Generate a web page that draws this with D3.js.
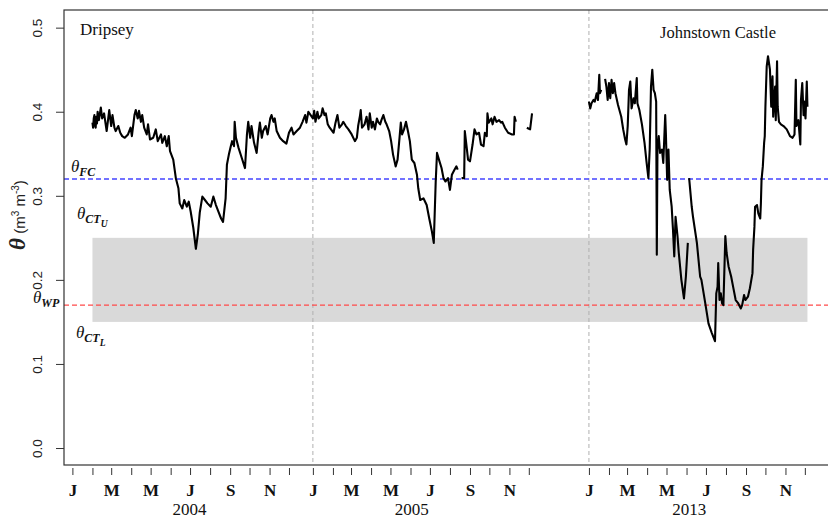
<!DOCTYPE html>
<html><head><meta charset="utf-8">
<script src="https://cdn.jsdelivr.net/npm/d3@7"></script>
<style>body{margin:0;background:#fff}svg{display:block}</style>
</head><body><svg id="c" width="828" height="518"></svg>
<script>
// ---------- data ----------
const years = ["2004", "2005", "2013"];
const yearOffset = [0, 372, 799];           // position of 1 Jan of each year on the day axis
const yearLabelDay = [181, 153, 155];
const monthStartsLeap = [0,31,60,91,121,152,182,213,244,274,305,335];
const monthStarts = [0,31,59,90,120,151,181,212,243,273,304,334];
const monthLetters = ["J","F","M","A","M","J","J","A","S","O","N","D"];
const yTicks = [0, 0.1, 0.2, 0.3, 0.4, 0.5];
const thetaFC = 0.32, thetaWP = 0.17, thetaCTU = 0.25, thetaCTL = 0.15;
const bandStart = [0, 31], bandEnd = [2, 338];   // [year index, day of year]
const siteNames = ["Dripsey", "Johnstown Castle"];

const dripsey2004 = [[31,0.387],[32,0.381],[33,0.392],[34,0.396],[35,0.384],[36,0.381],[37,0.394],[38,0.386],[39,0.400],[41,0.390],[44,0.405],[46,0.392],[49,0.398],[53,0.377],[57,0.402],[60,0.383],[62,0.396],[65,0.381],[67,0.377],[71,0.383],[74,0.375],[77,0.371],[81,0.369],[86,0.373],[90,0.381],[92,0.371],[96,0.396],[98,0.402],[101,0.392],[103,0.401],[106,0.388],[108,0.396],[111,0.381],[115,0.373],[117,0.385],[120,0.367],[125,0.369],[129,0.379],[132,0.365],[137,0.373],[139,0.363],[143,0.371],[146,0.359],[149,0.371],[151,0.353],[156,0.343],[160,0.321],[164,0.309],[166,0.291],[170,0.285],[173,0.295],[177,0.287],[180,0.293],[183,0.281],[187,0.262],[191,0.237],[194,0.254],[197,0.280],[201,0.299],[205,0.295],[209,0.291],[214,0.287],[218,0.299],[222,0.289],[226,0.281],[230,0.273],[233,0.269],[237,0.297],[239,0.337],[242,0.349],[245,0.359],[247,0.365],[250,0.359],[251,0.388],[253,0.369],[257,0.357],[262,0.345],[267,0.333],[270,0.373],[272,0.388],[275,0.369],[277,0.383],[281,0.363],[285,0.351],[288,0.375],[290,0.387],[293,0.369],[295,0.377],[299,0.383],[302,0.373],[306,0.392],[308,0.396],[311,0.388],[313,0.392],[316,0.377],[321,0.369],[326,0.365],[331,0.362],[335,0.375],[339,0.381],[342,0.373],[347,0.377],[352,0.381],[356,0.388],[360,0.396],[362,0.387],[365,0.400]];

const dripsey2005 = [[0,0.392],[2,0.401],[4,0.388],[7,0.400],[9,0.392],[13,0.396],[15,0.404],[18,0.396],[20,0.398],[23,0.385],[26,0.381],[32,0.375],[35,0.387],[38,0.396],[41,0.381],[45,0.385],[47,0.388],[51,0.383],[55,0.379],[60,0.373],[65,0.365],[68,0.369],[70,0.383],[73,0.396],[74,0.402],[76,0.381],[80,0.385],[83,0.394],[86,0.379],[88,0.398],[91,0.381],[93,0.388],[96,0.379],[99,0.392],[101,0.388],[104,0.385],[106,0.390],[109,0.396],[112,0.388],[114,0.385],[118,0.377],[121,0.365],[124,0.349],[128,0.335],[131,0.343],[134,0.369],[136,0.387],[138,0.373],[141,0.379],[144,0.388],[147,0.377],[150,0.365],[153,0.343],[157,0.339],[161,0.325],[163,0.309],[166,0.295],[171,0.297],[176,0.289],[180,0.273],[184,0.258],[187,0.244],[190,0.317],[192,0.351],[195,0.343],[199,0.333],[202,0.321],[205,0.317],[209,0.321],[212,0.307],[215,0.325],[219,0.331],[222,0.335],[224,0.331],[227,null],[230,0.321],[234,0.321],[235,0.377],[238,0.357],[240,0.343],[243,0.341],[247,0.361],[250,0.379],[253,0.373],[257,0.375],[260,0.361],[264,0.359],[266,0.375],[269,0.371],[270,0.398],[272,0.387],[276,0.392],[278,0.385],[281,0.394],[284,0.388],[288,0.390],[291,0.387],[293,0.388],[297,0.381],[302,0.375],[308,0.373],[311,0.373],[312,0.394],[314,0.388],[320,null],[331,0.381],[336,0.379],[339,0.398]];

const johnstown2013 = [[0,0.412],[2,0.404],[4,0.410],[7,0.414],[9,0.412],[12,0.422],[14,0.414],[16,0.444],[17,0.422],[19,0.426],[22,null],[25,0.439],[27,0.430],[29,0.414],[31,0.434],[33,0.416],[35,0.438],[37,0.422],[39,0.434],[41,0.422],[45,0.408],[50,0.394],[53,0.379],[56,0.367],[58,0.361],[60,0.383],[62,0.426],[64,0.436],[66,0.404],[69,0.416],[71,0.410],[74,0.440],[75,0.410],[78,0.402],[82,0.385],[86,0.363],[89,0.341],[92,0.321],[94,0.355],[96,0.430],[98,0.450],[100,0.426],[102,0.422],[104,0.412],[105,0.230],[106,0.355],[108,0.371],[110,0.351],[113,0.355],[115,0.339],[118,0.396],[119,0.375],[121,0.319],[123,0.355],[125,0.307],[128,0.287],[130,0.260],[132,0.228],[134,0.275],[137,0.252],[139,0.232],[143,0.200],[147,0.178],[150,0.204],[153,0.244],[154,null],[155,0.321],[159,0.287],[161,0.275],[167,0.244],[172,0.204],[174,0.200],[180,0.172],[185,0.148],[190,0.137],[195,0.127],[197,0.184],[199,0.192],[200,0.220],[202,0.176],[204,0.184],[206,0.172],[208,0.170],[211,0.252],[213,0.232],[216,0.216],[220,0.204],[223,0.192],[227,0.176],[231,0.172],[235,0.166],[237,0.170],[240,0.182],[242,0.176],[246,0.180],[249,0.190],[253,0.208],[254,0.236],[256,0.263],[257,0.287],[260,0.289],[262,0.279],[265,0.273],[266,0.291],[267,0.319],[269,0.335],[271,0.363],[272,0.371],[273,0.406],[275,0.454],[277,0.466],[280,0.450],[282,0.406],[284,0.442],[285,0.394],[288,0.430],[289,0.390],[291,0.460],[292,0.406],[294,0.388],[297,0.385],[301,0.383],[306,0.379],[311,0.371],[315,0.369],[318,0.373],[320,0.438],[321,0.383],[324,0.390],[327,0.361],[328,0.414],[330,0.434],[332,0.396],[333,0.412],[335,0.392],[337,0.436],[338,0.406]];

// ---------- layout ----------
const L = 64, T = 10, R = 832, B = 465;
const svg = d3.select("#c");
const x = d3.scaleLinear().domain([-13, 1175]).range([L, R]);
const y = d3.scaleLinear().domain([-0.0202, 0.521]).range([B, T]);
const pos = (yi, doy) => yearOffset[yi] + doy;
const serif = "'Liberation Serif','Times New Roman',serif";
const sans = "'Liberation Sans',Arial,sans-serif";

// grey band
svg.append("rect")
  .attr("x", x(pos(...bandStart))).attr("width", x(pos(...bandEnd)) - x(pos(...bandStart)))
  .attr("y", y(thetaCTU)).attr("height", y(thetaCTL) - y(thetaCTU))
  .attr("fill", "#d9d9d9");

// vertical year separators
[1, 2].forEach(i => {
  svg.append("line").attr("x1", x(pos(i, 0))).attr("x2", x(pos(i, 0)))
    .attr("y1", T).attr("y2", B)
    .attr("stroke", "#b0b0b0").attr("stroke-width", 1).attr("stroke-dasharray", "4,3");
});

// threshold lines
svg.append("line").attr("x1", L).attr("x2", R).attr("y1", y(thetaFC)).attr("y2", y(thetaFC))
  .attr("stroke", "#4444ff").attr("stroke-width", 1.4).attr("stroke-dasharray", "5,3");
svg.append("line").attr("x1", L).attr("x2", R).attr("y1", y(thetaWP)).attr("y2", y(thetaWP))
  .attr("stroke", "#ff4a4a").attr("stroke-width", 1.4).attr("stroke-dasharray", "5,3");

// data lines
const line = d3.line().defined(d => d[1] != null).x(d => x(d[0])).y(d => y(d[1]));
const dripsey = dripsey2004.map(d => [pos(0, d[0]), d[1]])
  .concat(dripsey2005.map(d => [pos(1, d[0]), d[1]]));
const johnstown = johnstown2013.map(d => [pos(2, d[0]), d[1]]);
[dripsey, johnstown].forEach(s => {
  svg.append("path").datum(s).attr("d", line)
    .attr("fill", "none").attr("stroke", "#000").attr("stroke-width", 2.1)
    .attr("stroke-linejoin", "round");
});

// box
svg.append("rect").attr("x", L).attr("y", T).attr("width", R - L).attr("height", B - T)
  .attr("fill", "none").attr("stroke", "#333").attr("stroke-width", 1.2);

// y axis
const ya = svg.append("g").attr("transform", `translate(${L},0)`)
  .call(d3.axisLeft(y).tickValues(yTicks).tickFormat(d3.format(".1f")).tickSize(8));
ya.select(".domain").remove();
ya.selectAll(".tick line").attr("stroke", "#333");
ya.selectAll(".tick text")
  .attr("transform", "rotate(-90)").attr("x", 0).attr("y", -22).attr("dy", 0)
  .attr("text-anchor", "middle").attr("fill", "#222")
  .style("font-family", sans).style("font-size", "13.5px");

// x axis (month ticks)
const xTicks = [], xLab = new Map();
years.forEach((yr, i) => {
  const ms = yr === "2004" ? monthStartsLeap : monthStarts;
  ms.forEach((m, k) => { const p = pos(i, m); xTicks.push(p); xLab.set(p, k % 2 === 0 ? monthLetters[k] : ""); });
});
const xa = svg.append("g").attr("transform", `translate(0,${B + 3})`)
  .call(d3.axisBottom(x).tickValues(xTicks).tickFormat(d => xLab.get(d)).tickSize(7));
xa.select(".domain").remove();
xa.selectAll(".tick line").attr("stroke", "#333");
xa.selectAll(".tick text").attr("y", 16).attr("fill", "#111")
  .style("font-family", serif).style("font-size", "17px").style("font-weight", "bold");

// year labels
years.forEach((yr, i) => {
  svg.append("text").attr("x", x(pos(i, yearLabelDay[i]))).attr("y", 515)
    .attr("text-anchor", "middle").attr("fill", "#111")
    .style("font-family", serif).style("font-size", "17px").text(yr);
});

// y title
const yt = svg.append("text").attr("transform", "translate(25,215) rotate(-90)")
  .attr("text-anchor", "middle").attr("fill", "#222");
yt.append("tspan").style("font-family", serif).style("font-style", "italic").style("font-weight", "bold")
  .style("font-size", "23px").text("θ");
yt.append("tspan").style("font-family", sans).style("font-size", "15px").text("  (m");
yt.append("tspan").style("font-family", sans).style("font-size", "10px").attr("dy", -6).text("3");
yt.append("tspan").style("font-family", sans).style("font-size", "15px").attr("dy", 6).text(" m");
yt.append("tspan").style("font-family", sans).style("font-size", "10px").attr("dy", -6).text("-3");
yt.append("tspan").style("font-family", sans).style("font-size", "15px").attr("dy", 6).text(")");

// theta annotations
function thetaLabel(xp, yp, sub, subsub) {
  const t = svg.append("text").attr("x", xp).attr("y", yp).attr("fill", "#111")
    .style("font-family", serif).style("font-style", "italic");
  t.append("tspan").style("font-size", "17px").text("θ");
  t.append("tspan").style("font-size", "12px").style("font-weight", "bold").attr("dy", 4).text(sub);
  if (subsub) t.append("tspan").style("font-size", "9.5px").style("font-weight", "bold").attr("dy", 4).text(subsub);
}
thetaLabel(71, 172, "FC");
thetaLabel(77, 219, "CT", "U");
thetaLabel(33, 303, "WP");
thetaLabel(76, 338, "CT", "L");

// site names
svg.append("text").attr("x", 80).attr("y", 35).style("font-family", serif).style("font-size", "17px")
  .attr("fill", "#111").text(siteNames[0]);
svg.append("text").attr("x", 660).attr("y", 38).style("font-family", serif).style("font-size", "16.5px")
  .attr("fill", "#111").text(siteNames[1]);
</script>
</body></html>
